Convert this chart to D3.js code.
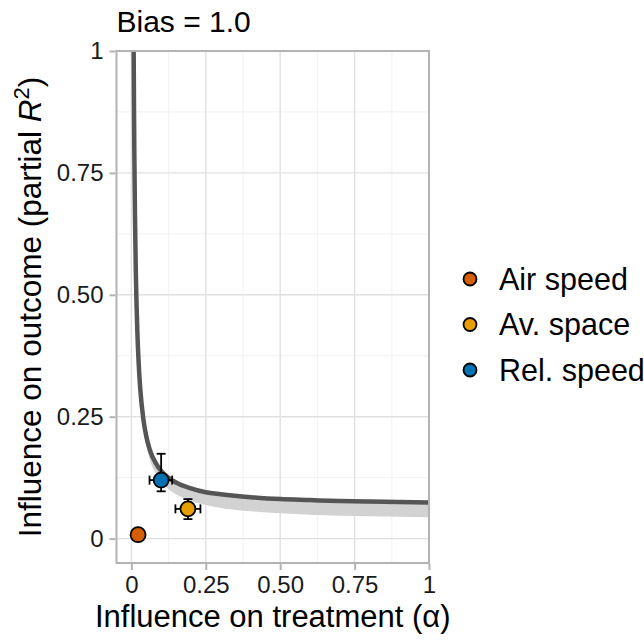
<!DOCTYPE html>
<html>
<head>
<meta charset="utf-8">
<script src="https://cdn.jsdelivr.net/npm/d3@7"></script>
<style>
  body { margin: 0; background: #fff; }
  text { font-family: "Liberation Sans", Arial, Helvetica, sans-serif; }
</style>
</head>
<body>
<script>
// DATA
const title = "Bias = 1.0";
const xLabel = "Influence on treatment (\u03b1)";
const categories = ["Air speed", "Av. space", "Rel. speed"];
const colors = ["#D55E00", "#E69F00", "#0072B2"];
const pointAlpha = [0.0225, 0.19, 0.10];
const pointR2 = [0.008, 0.061, 0.12];
const alphaLow = [null, 0.148, 0.061];
const alphaHigh = [null, 0.232, 0.137];
const r2Low = [null, 0.040, 0.097];
const r2High = [null, 0.081, 0.174];

// contour for bias = 1.0 and its band
const curveAlpha = [0.0077, 0.009, 0.01, 0.012, 0.015, 0.02, 0.025, 0.03, 0.04, 0.05, 0.06, 0.07, 0.08, 0.1, 0.12, 0.15, 0.2, 0.25, 0.3, 0.4, 0.5, 0.6, 0.7, 0.8, 0.9, 1.0];
const curveR2 = [1.0, 0.865, 0.785, 0.665, 0.545, 0.426, 0.354, 0.306, 0.246, 0.210, 0.186, 0.169, 0.157, 0.139, 0.127, 0.115, 0.103, 0.095, 0.091, 0.085, 0.081, 0.079, 0.077, 0.076, 0.075, 0.074];
const bandLowR2 = [1.0, 0.86, 0.78, 0.655, 0.53, 0.41, 0.335, 0.285, 0.226, 0.19, 0.166, 0.148, 0.136, 0.118, 0.104, 0.091, 0.077, 0.069, 0.063, 0.056, 0.052, 0.049, 0.047, 0.046, 0.045, 0.044];

const xTicks = [0, 0.25, 0.5, 0.75, 1];
const yTicks = [0, 0.25, 0.5, 0.75, 1];
const minorTicks = [0.125, 0.375, 0.625, 0.875];

// SIZES
const svgwidth = 644, svgheight = 640;
const panel = {left: 116.5, right: 429, top: 51, bottom: 563};

const X = d3.scaleLinear().domain([-0.05, 1]).range([panel.left, panel.right]);
const Y = d3.scaleLinear().domain([-0.05, 1]).range([panel.bottom, panel.top]);

const fmt = d => (d === 0 || d === 1) ? String(d) : d3.format(".2f")(d);

const svg = d3.select("body").append("svg")
  .attr("width", svgwidth)
  .attr("height", svgheight);

svg.append("defs").append("clipPath").attr("id", "clip")
  .append("rect")
  .attr("x", panel.left).attr("y", panel.top)
  .attr("width", panel.right - panel.left)
  .attr("height", panel.bottom - panel.top);

// GRID
const grid = svg.append("g").classed("grid", true);
grid.selectAll(".minor-x").data(minorTicks).enter().append("line")
  .attr("x1", d => X(d)).attr("x2", d => X(d))
  .attr("y1", panel.top).attr("y2", panel.bottom)
  .attr("stroke", "#ededed").attr("stroke-width", 0.8);
grid.selectAll(".minor-y").data(minorTicks).enter().append("line")
  .attr("y1", d => Y(d)).attr("y2", d => Y(d))
  .attr("x1", panel.left).attr("x2", panel.right)
  .attr("stroke", "#ededed").attr("stroke-width", 0.8);
grid.selectAll(".major-x").data(xTicks).enter().append("line")
  .attr("x1", d => X(d)).attr("x2", d => X(d))
  .attr("y1", panel.top).attr("y2", panel.bottom)
  .attr("stroke", "#e0e0e0").attr("stroke-width", 1.4);
grid.selectAll(".major-y").data(yTicks).enter().append("line")
  .attr("y1", d => Y(d)).attr("y2", d => Y(d))
  .attr("x1", panel.left).attr("x2", panel.right)
  .attr("stroke", "#e0e0e0").attr("stroke-width", 1.4);

// BAND + CURVE
const curveData = curveAlpha.map((a, i) => ({a: a, r: curveR2[i], lo: bandLowR2[i]}));
const plot = svg.append("g").attr("clip-path", "url(#clip)");

plot.append("path").datum(curveData)
  .attr("d", d3.area().x(d => X(d.a)).y0(d => Y(d.lo)).y1(d => Y(d.r)).curve(d3.curveMonotoneX))
  .attr("fill", "#d2d2d2");

plot.append("path").datum(curveData)
  .attr("d", d3.line().x(d => X(d.a)).y(d => Y(d.r)).curve(d3.curveMonotoneX))
  .attr("fill", "none")
  .attr("stroke", "#555555")
  .attr("stroke-width", 4.5);

// PANEL BORDER
svg.append("rect")
  .attr("x", panel.left).attr("y", panel.top)
  .attr("width", panel.right - panel.left)
  .attr("height", panel.bottom - panel.top)
  .attr("fill", "none")
  .attr("stroke", "#b3b3b3")
  .attr("stroke-width", 2);

// AXES
const xAxis = svg.append("g")
  .attr("transform", `translate(0, ${panel.bottom + 1})`)
  .call(d3.axisBottom(X).tickValues(xTicks).tickFormat(fmt).tickSize(6).tickPadding(6));
const yAxis = svg.append("g")
  .attr("transform", `translate(${panel.left - 1}, 0)`)
  .call(d3.axisLeft(Y).tickValues(yTicks).tickFormat(fmt).tickSize(6).tickPadding(6));
[xAxis, yAxis].forEach(ax => {
  ax.select(".domain").remove();
  ax.selectAll(".tick line").attr("stroke", "#b3b3b3").attr("stroke-width", 2);
  ax.selectAll(".tick text")
    .attr("fill", "#1a1a1a")
    .style("font-size", "24px")
    .style("font-family", "'Liberation Sans', Arial, sans-serif");
});

// ERROR BARS
const points = categories.map((c, i) => ({
  name: c, color: colors[i], a: pointAlpha[i], r: pointR2[i],
  aLo: alphaLow[i], aHi: alphaHigh[i], rLo: r2Low[i], rHi: r2High[i]
}));
const withErr = points.filter(d => d.aLo !== null);
const cap = 4.5;
const eb = svg.append("g").attr("stroke", "#000").attr("stroke-width", 1.8);
withErr.forEach(d => {
  eb.append("line").attr("x1", X(d.aLo)).attr("x2", X(d.aHi)).attr("y1", Y(d.r)).attr("y2", Y(d.r));
  eb.append("line").attr("x1", X(d.aLo)).attr("x2", X(d.aLo)).attr("y1", Y(d.r) - cap).attr("y2", Y(d.r) + cap);
  eb.append("line").attr("x1", X(d.aHi)).attr("x2", X(d.aHi)).attr("y1", Y(d.r) - cap).attr("y2", Y(d.r) + cap);
  eb.append("line").attr("y1", Y(d.rLo)).attr("y2", Y(d.rHi)).attr("x1", X(d.a)).attr("x2", X(d.a));
  eb.append("line").attr("y1", Y(d.rLo)).attr("y2", Y(d.rLo)).attr("x1", X(d.a) - cap).attr("x2", X(d.a) + cap);
  eb.append("line").attr("y1", Y(d.rHi)).attr("y2", Y(d.rHi)).attr("x1", X(d.a) - cap).attr("x2", X(d.a) + cap);
});

// POINTS
svg.selectAll(".pt").data(points).enter().append("circle").classed("pt", true)
  .attr("cx", d => X(d.a))
  .attr("cy", d => Y(d.r))
  .attr("r", 7.5)
  .attr("fill", d => d.color)
  .attr("stroke", "#000")
  .attr("stroke-width", 1.8);

// TITLE + AXIS LABELS
svg.append("text")
  .attr("x", panel.left).attr("y", 32)
  .style("font-size", "30px").attr("fill", "#000")
  .text(title);

svg.append("text")
  .attr("x", (panel.left + panel.right) / 2).attr("y", 627)
  .attr("text-anchor", "middle")
  .style("font-size", "31px").attr("fill", "#000")
  .text(xLabel);

const yl = svg.append("text")
  .attr("transform", `translate(41, ${(panel.top + panel.bottom) / 2}) rotate(-90)`)
  .attr("text-anchor", "middle")
  .style("font-size", "31.5px").attr("fill", "#000");
yl.append("tspan").text("Influence on outcome (partial ");
yl.append("tspan").style("font-style", "italic").text("R");
yl.append("tspan").attr("dy", -12).style("font-size", "22px").text("2");
yl.append("tspan").attr("dy", 12).text(")");

// LEGEND
const legend = svg.append("g").attr("transform", "translate(470, 279)");
const li = legend.selectAll(".item").data(points).enter().append("g")
  .attr("transform", (d, i) => `translate(0, ${i * 45.5})`);
li.append("circle").attr("r", 6.5)
  .attr("fill", d => d.color).attr("stroke", "#000").attr("stroke-width", 1.8);
li.append("text").attr("x", 29).attr("y", 10.5)
  .style("font-size", "30.5px").attr("fill", "#000")
  .text(d => d.name);
</script>
</body>
</html>
